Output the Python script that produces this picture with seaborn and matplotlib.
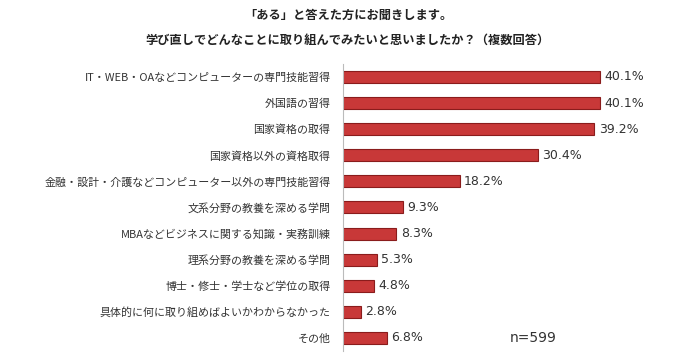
import matplotlib
matplotlib.use("Agg")
import matplotlib.pyplot as plt
import seaborn as sns
import pandas as pd

categories = [
    "IT・WEB・OAなどコンピューターの専門技能習得",
    "外国語の習得",
    "国家資格の取得",
    "国家資格以外の資格取得",
    "金融・設計・介護などコンピューター以外の専門技能習得",
    "文系分野の教養を深める学問",
    "MBAなどビジネスに関する知識・実務訓練",
    "理系分野の教養を深める学問",
    "博士・修士・学士など学位の取得",
    "具体的に何に取り組めばよいかわからなかった",
    "その他",
]
values = [40.1, 40.1, 39.2, 30.4, 18.2, 9.3, 8.3, 5.3, 4.8, 2.8, 6.8]
value_labels = ["40.1%", "40.1%", "39.2%", "30.4%", "18.2%", "9.3%", "8.3%", "5.3%", "4.8%", "2.8%", "6.8%"]
title_lines = ["「ある」と答えた方にお聞きします。",
               "学び直しでどんなことに取り組んでみたいと思いましたか？（複数回答）"]
note = "n=599"

sns.set_theme(style="white")
plt.rcParams['font.family'] = ['Noto Sans CJK JP', 'DejaVu Sans']

df = pd.DataFrame({"cat": categories, "val": values})

fig = plt.figure(figsize=(7.0, 3.63), dpi=100)
ax = fig.add_axes([0.49, 0.033, 0.51, 0.791])
sns.barplot(data=df, y="cat", x="val", orient="h", color="#c83838",
            width=0.46, edgecolor="#8a1c1c", linewidth=0.8, ax=ax, saturation=1)
ax.set_xlim(0, 55.7)
ax.set_ylim(10.5, -0.5)
ax.set_xlabel("")
ax.set_ylabel("")
ax.set_xticks([])
for s in ["top", "right", "bottom"]:
    ax.spines[s].set_visible(False)
ax.spines["left"].set_color("#bbbbbb")
ax.spines["left"].set_linewidth(0.8)
ax.tick_params(axis="y", length=0, pad=9, labelsize=7.9, labelcolor="#333333")

for i, (v, lab) in enumerate(zip(values, value_labels)):
    ax.text(v + 0.7, i, lab, va="center", ha="left", fontsize=9,
            color="#333333", family=['DejaVu Sans'])

ax.text(26.0, 10, note, va="center", ha="left", fontsize=10,
        color="#333333", family=['DejaVu Sans'])

fig.text(0.498, 0.957, title_lines[0], ha="center", va="center",
         fontsize=8.8, fontweight="bold", color="#222222")
fig.text(0.496, 0.888, title_lines[1], ha="center", va="center",
         fontsize=8.8, fontweight="bold", color="#222222")

fig.savefig("out.png", dpi=100, facecolor="white")
